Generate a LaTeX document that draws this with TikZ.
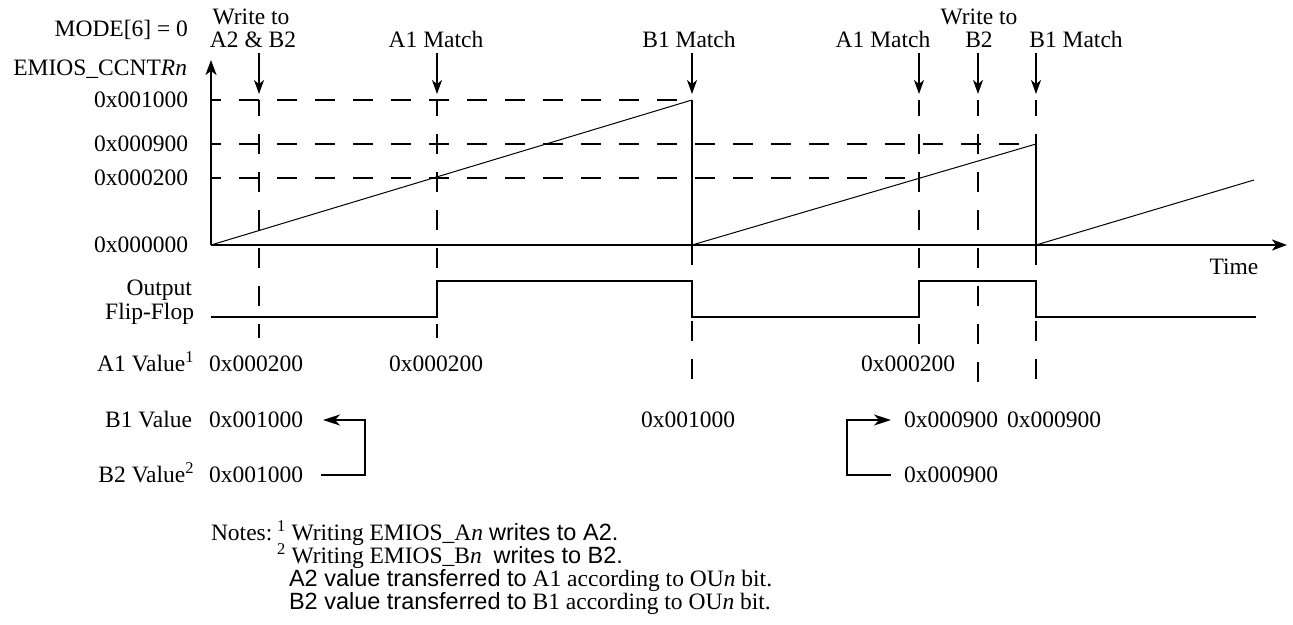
\documentclass[tikz,border=0pt]{standalone}
\usepackage{fontspec}
\setmainfont{Liberation Serif}
\newfontfamily\sansf{Liberation Sans}
\usetikzlibrary{arrows.meta}
\begin{document}
\begin{tikzpicture}[x=1pt,y=-1pt,
  every node/.style={font=\fontsize{23.5}{26}\selectfont, inner sep=0pt, outer sep=0pt, text height=15pt, text depth=0pt},
  lbl/.style={anchor=east},
  axis/.style={line width=2pt, -{Stealth[length=15pt,width=11pt,inset=4pt]}},
  evt/.style={line width=1.5pt, -{Stealth[length=14pt,width=10pt,inset=4pt]}},
  ramp/.style={line width=1pt},
  sig/.style={line width=2pt},
  guide/.style={line width=1.6pt, dash pattern=on 20pt off 18pt},
  hguide/.style={guide, dash phase=10pt},
  vguide/.style={guide, dash phase=4pt},
  xfer/.style={line width=2pt, -{Stealth[length=17pt,width=11pt,inset=5pt]}},
]
\useasboundingbox (0,0) rectangle (1293,624);

% ---------- coordinates ----------
\coordinate (O) at (211,245);
\coordinate (Ytop) at (211,60);
\coordinate (Xend) at (1287,245);
\coordinate (p1) at (692,100);
\coordinate (p1b) at (692,245);
\coordinate (p2) at (1036,144);
\coordinate (p2b) at (1036,245);
\coordinate (p3) at (1254,180);
\coordinate (h1000) at (211,100);
\coordinate (h900) at (211,144);
\coordinate (h200) at (211,178);
\coordinate (h200e) at (919,178);

% ---------- labels ----------
\node[lbl] (mode) at (188,29) {MODE[6] = 0};
\node[lbl] (ccnt) at (187,68) {EMIOS\_CCNT\textit{Rn}};
\node[lbl] (y1000) at (188,100) {0x001000};
\node[lbl] (y900) at (188,144) {0x000900};
\node[lbl] (y200) at (188,178) {0x000200};
\node[lbl] (y000) at (188,245) {0x000000};
\node (time) at (1234,267) {Time};

\node (wr1a) at (251,17) {Write to};
\node (wr1b) at (253,40) {A2 \& B2};
\node (am1) at (436,40) {A1 Match};
\node (bm1) at (689,40) {B1 Match};
\node (am2) at (883,40) {A1 Match};
\node (wr2a) at (979,17) {Write to};
\node (wr2b) at (979,40) {B2};
\node (bm2) at (1076,40) {B1 Match};

\node[lbl] (ffa) at (192,288) {Output};
\node[lbl] (ffb) at (194,312) {Flip-Flop};
\node[lbl] (a1l) at (194,364) {A1 Value\textsuperscript{1}};
\node[lbl] (b1l) at (192,420) {B1 Value};
\node[lbl] (b2l) at (194,475) {B2 Value\textsuperscript{2}};

\node[anchor=west] (a1v1) at (209,364) {0x000200};
\node (a1v2) at (436,364) {0x000200};
\node (a1v3) at (908,364) {0x000200};
\node[anchor=west] (b1v1) at (209,420) {0x001000};
\node (b1v2) at (688,420) {0x001000};
\node (b1v3) at (951,420) {0x000900};
\node (b1v4) at (1054,420) {0x000900};
\node[anchor=west] (b2v1) at (209,475) {0x001000};
\node (b2v2) at (951,475) {0x000900};

\node[anchor=west] (notes) at (211,533) {Notes:};
\node[anchor=west] (n1) at (277,533) {\textsuperscript{1} Writing EMIOS\_A\textit{n} {\sansf writes to A2.}};
\node[anchor=west] (n2) at (277,556) {\textsuperscript{2} Writing EMIOS\_B\textit{n}\ \ {\sansf writes to B2.}};
\node[anchor=west] (n3) at (289,579) {{\sansf A2 value transferred to} A1 according to OU\textit{n} bit.};
\node[anchor=west] (n4) at (289,602) {{\sansf B2 value transferred to} B1 according to OU\textit{n} bit.};

% ---------- guides ----------
\draw[hguide] (h1000) -- (p1);
\draw[hguide] (h900) -- (p2);
\draw[hguide] (h200) -- (h200e);
\draw[vguide] (259,100) -- (259,338);
\draw[vguide] (437,100) -- (437,338);
\draw[guide] (p1b) -- (692,393);
\draw[vguide] (919,100) -- (919,345);
\draw[vguide] (978,100) -- (978,396);
\draw[vguide] (1036,100) -- (p2);
\draw[guide] (p2b) -- (1036,396);

% ---------- event arrows ----------
\foreach \x/\n in {259/e1,437/e2,692/e3,919/e4,978/e5,1036/e6}{
  \coordinate (\n t) at (\x,53);
  \coordinate (\n b) at (\x,94);
  \draw[evt] (\n t) -- (\n b);
}

% ---------- axes ----------
\draw[axis] (O) -- (Ytop);
\draw[axis] (O) -- (Xend);

% ---------- counter ----------
\draw[ramp] (O) -- (p1);
\draw[sig] (p1) -- (p1b);
\draw[ramp] (p1b) -- (p2);
\draw[sig] (p2) -- (p2b);
\draw[ramp] (p2b) -- (p3);

% ---------- flip-flop ----------
\draw[sig] (211,317) -- (437,317) -- (437,281) -- (692,281) -- (692,317)
  -- (919,317) -- (919,281) -- (1036,281) -- (1036,317) -- (1256,317);

% ---------- transfers ----------
\coordinate (brL) at (365,447);
\coordinate (brR) at (847,447);
\draw[xfer] ([xshift=18pt]b2v1.east) -| (brL) |- ([xshift=20pt]b1v1.east);
\draw[xfer] ([xshift=-13pt]b2v2.west) -| (brR) |- ([xshift=-13pt]b1v3.west);
\end{tikzpicture}
\end{document}
